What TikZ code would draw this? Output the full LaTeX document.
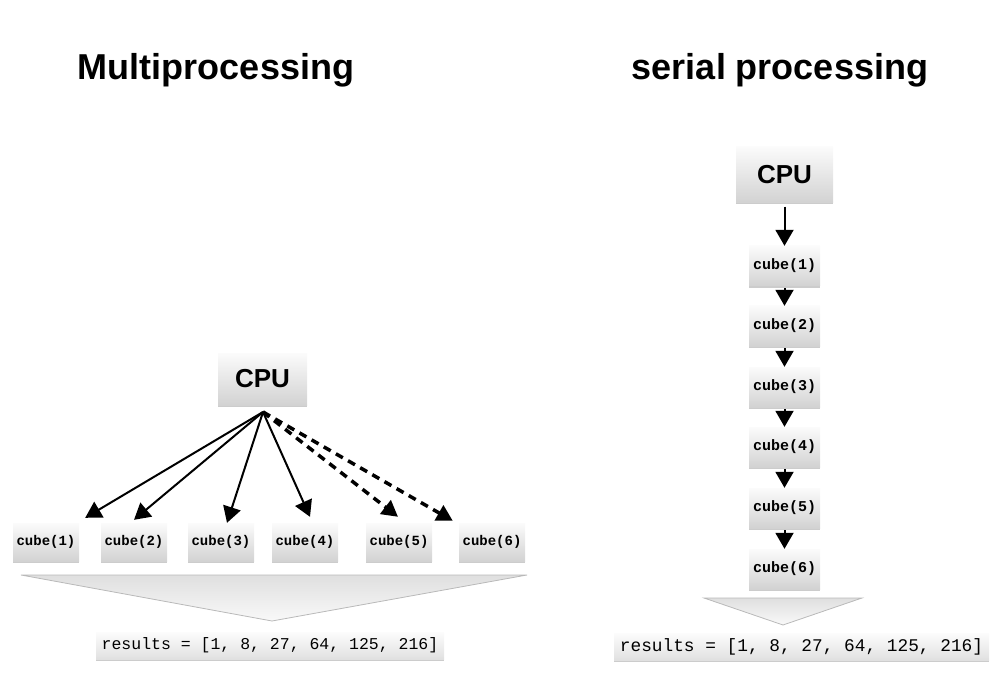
\documentclass[tikz,border=0pt]{standalone}
\usepackage{fontspec}
\setmainfont{Liberation Sans}
\newfontfamily\codefont{Liberation Mono}
\usetikzlibrary{arrows.meta,shadows}
\begin{document}
\begin{tikzpicture}[x=1pt,y=-1pt,
  gbox/.style={rectangle, inner sep=0pt, top color=gray!3, bottom color=gray!35,
     drop shadow={shadow xshift=0pt, shadow yshift=-2pt, opacity=0.4}},
  cpubox/.style={gbox, font=\fontsize{26}{26}\selectfont\bfseries},
  lcube/.style={gbox, minimum width=66pt, minimum height=38pt, font=\codefont\fontsize{14}{14}\selectfont\bfseries},
  rcube/.style={gbox, minimum width=71pt, minimum height=40pt, font=\codefont\fontsize{15}{15}\selectfont\bfseries},
  resbox/.style={gbox, top color=gray!2, bottom color=gray!24},
  ttl/.style={font=\fontsize{36}{36}\selectfont\bfseries},
  arr/.style={line width=2pt, -{Triangle[length=16pt,width=18pt]}},
  darr/.style={line width=3.5pt, dash pattern=on 8pt off 6pt, -{Triangle[length=16pt,width=17pt]}},
  wedge/.style={top color=gray!25, bottom color=gray!5, draw=gray!55, line width=0.8pt}
]
\useasboundingbox (0,0) rectangle (995,692);

% titles
\node[ttl] (t1) at (216,70) {Multiprocessing};
\node[ttl] (t2) at (780,70) {serial processing};

% ---------- left: multiprocessing ----------
\node[cpubox, minimum width=89pt, minimum height=52pt] (lcpu) at (262.5,379) {CPU};
\coordinate (lsrc) at (263,412);
\node[lcube] (c1) at (46,542) {cube(1)};
\node[lcube] (c2) at (134,542) {cube(2)};
\node[lcube] (c3) at (221,542) {cube(3)};
\node[lcube] (c4) at (305,542) {cube(4)};
\node[lcube] (c5) at (399,542) {cube(5)};
\node[lcube] (c6) at (492,542) {cube(6)};

\draw[arr] (lsrc) -- ([xshift=6pt,yshift=5pt]c1.north east);
\draw[arr] (lsrc) -- ([yshift=3pt]c2.north);
\draw[arr] (lsrc) -- ([xshift=6pt,yshift=0pt]c3.north);
\draw[arr] (lsrc) -- ([xshift=5pt,yshift=6pt]c4.north);
\draw[darr] (lsrc) -- ([xshift=-1pt,yshift=6pt]c5.north);
\draw[darr] (lsrc) -- ([xshift=-6pt,yshift=2pt]c6.north west);

\path[wedge] (21,575) -- (527,575) -- (272,621) -- cycle;
\node[resbox, minimum width=348pt, minimum height=27pt, font=\codefont\fontsize{16.5}{16.5}\selectfont] (lres) at (270,645.5) {results = [1, 8, 27, 64, 125, 216]};

% ---------- right: serial processing ----------
\node[cpubox, minimum width=97pt, minimum height=56pt] (rcpu) at (784.5,174.5) {CPU};
\node[rcube] (r1) at (784.5,266) {cube(1)};
\node[rcube] (r2) at (784.5,326) {cube(2)};
\node[rcube] (r3) at (784.5,387) {cube(3)};
\node[rcube] (r4) at (784.5,447) {cube(4)};
\node[rcube] (r5) at (784.5,508) {cube(5)};
\node[rcube] (r6) at (784.5,569) {cube(6)};

\draw[arr] ([yshift=-4pt]rcpu.south) -- (r1.north);
\draw[arr] ([yshift=-2pt]r1.south) -- (r2.north);
\draw[arr] ([yshift=-2pt]r2.south) -- (r3.north);
\draw[arr] ([yshift=-2pt]r3.south) -- (r4.north);
\draw[arr] ([yshift=-2pt]r4.south) -- (r5.north);
\draw[arr] ([yshift=-2pt]r5.south) -- (r6.north);

\path[wedge] (704,598) -- (862,598) -- (783,625) -- cycle;
\node[resbox, minimum width=375pt, minimum height=27pt, font=\codefont\fontsize{17.8}{17.8}\selectfont] (rres) at (801.5,646.5) {results = [1, 8, 27, 64, 125, 216]};
\end{tikzpicture}
\end{document}
